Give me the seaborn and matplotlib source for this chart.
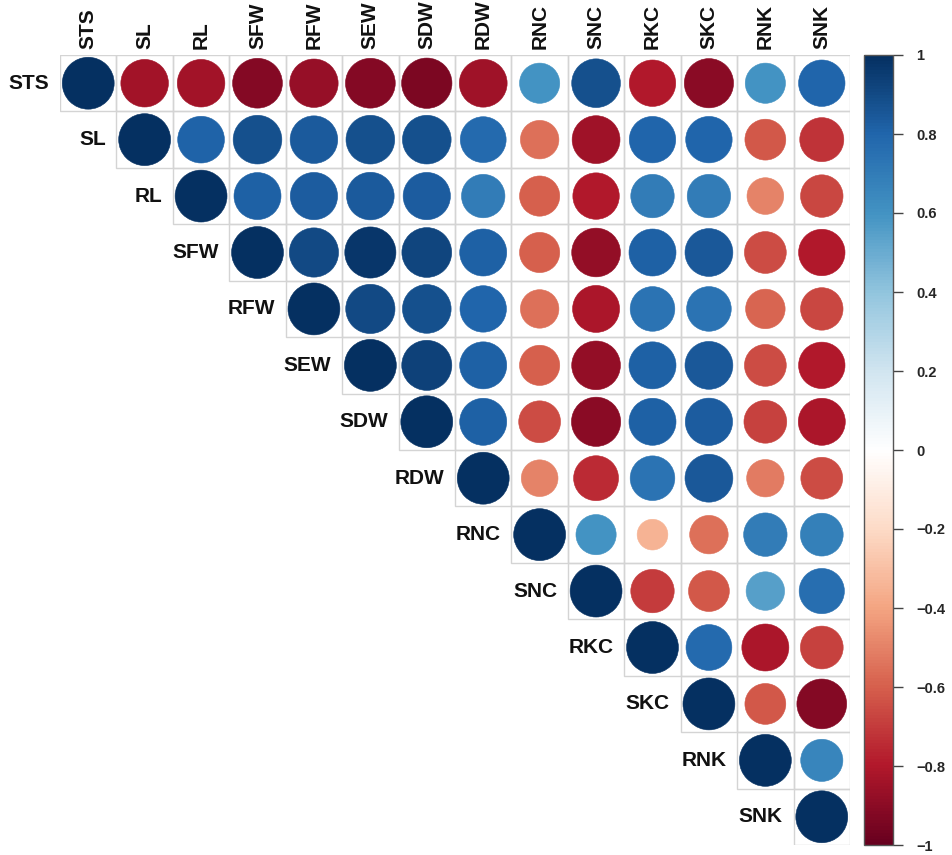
import numpy as np
import pandas as pd
import matplotlib
matplotlib.use("Agg")
import matplotlib.pyplot as plt
import seaborn as sns
from matplotlib.colors import LinearSegmentedColormap, ListedColormap, Normalize
from matplotlib.collections import EllipseCollection
from matplotlib.patches import Rectangle
from matplotlib.cm import ScalarMappable

traits = ["STS", "SL", "RL", "SFW", "RFW", "SEW", "SDW", "RDW",
          "RNC", "SNC", "RKC", "SKC", "RNK", "SNK"]

# upper-triangle correlations, each row starts at its diagonal
r_STS = [1.00, -0.84, -0.84, -0.92, -0.87, -0.92, -0.94, -0.85, 0.60, 0.88, -0.80, -0.90, 0.60, 0.80]
r_SL = [1.00, 0.81, 0.88, 0.84, 0.88, 0.88, 0.78, -0.55, -0.85, 0.80, 0.80, -0.62, -0.72]
r_RL = [1.00, 0.82, 0.83, 0.84, 0.83, 0.70, -0.60, -0.80, 0.70, 0.70, -0.50, -0.67]
r_SFW = [1.00, 0.90, 0.97, 0.92, 0.82, -0.60, -0.88, 0.82, 0.85, -0.65, -0.80]
r_RFW = [1.00, 0.90, 0.88, 0.80, -0.55, -0.82, 0.74, 0.74, -0.58, -0.67]
r_SEW = [1.00, 0.93, 0.82, -0.60, -0.88, 0.82, 0.85, -0.65, -0.80]
r_SDW = [1.00, 0.82, -0.65, -0.90, 0.82, 0.83, -0.68, -0.82]
r_RDW = [1.00, -0.50, -0.75, 0.74, 0.85, -0.52, -0.65]
r_RNC = [1.00, 0.60, -0.35, -0.55, 0.70, 0.68]
r_SNC = [1.00, -0.70, -0.62, 0.55, 0.76]
r_RKC = [1.00, 0.78, -0.82, -0.68]
r_SKC = [1.00, -0.62, -0.92]
r_RNK = [1.00, 0.66]
r_SNK = [1.00]

rows = [r_STS, r_SL, r_RL, r_SFW, r_RFW, r_SEW, r_SDW, r_RDW,
        r_RNC, r_SNC, r_RKC, r_SKC, r_RNK, r_SNK]

n = len(traits)
corr = np.full((n, n), np.nan)
for i, vals in enumerate(rows):
    corr[i, i:] = vals
corr_df = pd.DataFrame(corr, index=traits, columns=traits)

rdbu = LinearSegmentedColormap.from_list(
    "corr_rdbu",
    ["#67001F", "#B2182B", "#D6604D", "#F4A582", "#FDDBC7", "#FFFFFF",
     "#D1E5F0", "#92C5DE", "#4393C3", "#2166AC", "#053061"], N=256)
norm = Normalize(-1, 1)

label_font = ["Liberation Sans Narrow", "Liberation Sans", "DejaVu Sans"]

sns.set_theme(style="white")
plt.rcParams["font.family"] = label_font

fig = plt.figure(figsize=(9.52, 8.55), dpi=100)
ax = fig.add_axes([60 / 952, 1 - 845 / 855, 790 / 952, 790 / 855])

# white background cells for the upper triangle
mask = np.isnan(corr)
sns.heatmap(corr_df.notna().astype(float), mask=mask,
            cmap=ListedColormap(["white"]), cbar=False,
            xticklabels=False, yticklabels=False, ax=ax)

# light grey borders around each upper-triangle cell
for i in range(n):
    for j in range(i, n):
        ax.add_patch(Rectangle((j, i), 1, 1, facecolor="none",
                               edgecolor="#d4d4d4", linewidth=1.0, zorder=2))

# circles: area proportional to |r|
ii, jj = np.where(~np.isnan(corr))
vals = corr[ii, jj]
diam = 0.92 * np.sqrt(np.abs(vals))
circles = EllipseCollection(diam, diam, np.zeros_like(diam), units="xy",
                            offsets=np.column_stack([jj + 0.5, ii + 0.5]),
                            offset_transform=ax.transData,
                            facecolors=rdbu(norm(vals)),
                            edgecolors=rdbu(norm(vals)), linewidths=0.4,
                            zorder=3)
ax.add_collection(circles)
ax.set_xlim(0, n)
ax.set_ylim(n, 0)
for s in ax.spines.values():
    s.set_visible(False)

# column labels along the top, row labels left of each diagonal cell
for j, name in enumerate(traits):
    ax.text(j + 0.5, -0.1, name, rotation=90, ha="center", va="bottom",
            fontsize=15, fontweight="bold", color="#111111", family=label_font)
for i, name in enumerate(traits):
    ax.text(i - 0.19, i + 0.5, name, ha="right", va="center",
            fontsize=15, fontweight="bold", color="#111111", family=label_font)

# colour bar
cax = fig.add_axes([864 / 952, 1 - 845 / 855, 29 / 952, 790 / 855])
cb = fig.colorbar(ScalarMappable(norm=norm, cmap=rdbu), cax=cax)
cb.outline.set_edgecolor("#555555")
cb.outline.set_linewidth(1.0)
ticks = np.round(np.arange(-1, 1.01, 0.2), 1)
cb.set_ticks(ticks)
tick_labels = []
for t in ticks:
    if t == 0:
        tick_labels.append("0")
    else:
        tick_labels.append(f"{t:g}".replace("-", "\u2212"))
cb.set_ticklabels(tick_labels)
cax.tick_params(axis="y", length=7, width=1, color="#444444", pad=10,
                labelsize=10.5)
for lab in cax.get_yticklabels():
    lab.set_fontweight("bold")
    lab.set_family(label_font)

fig.savefig("out.png", dpi=100, facecolor="white")
